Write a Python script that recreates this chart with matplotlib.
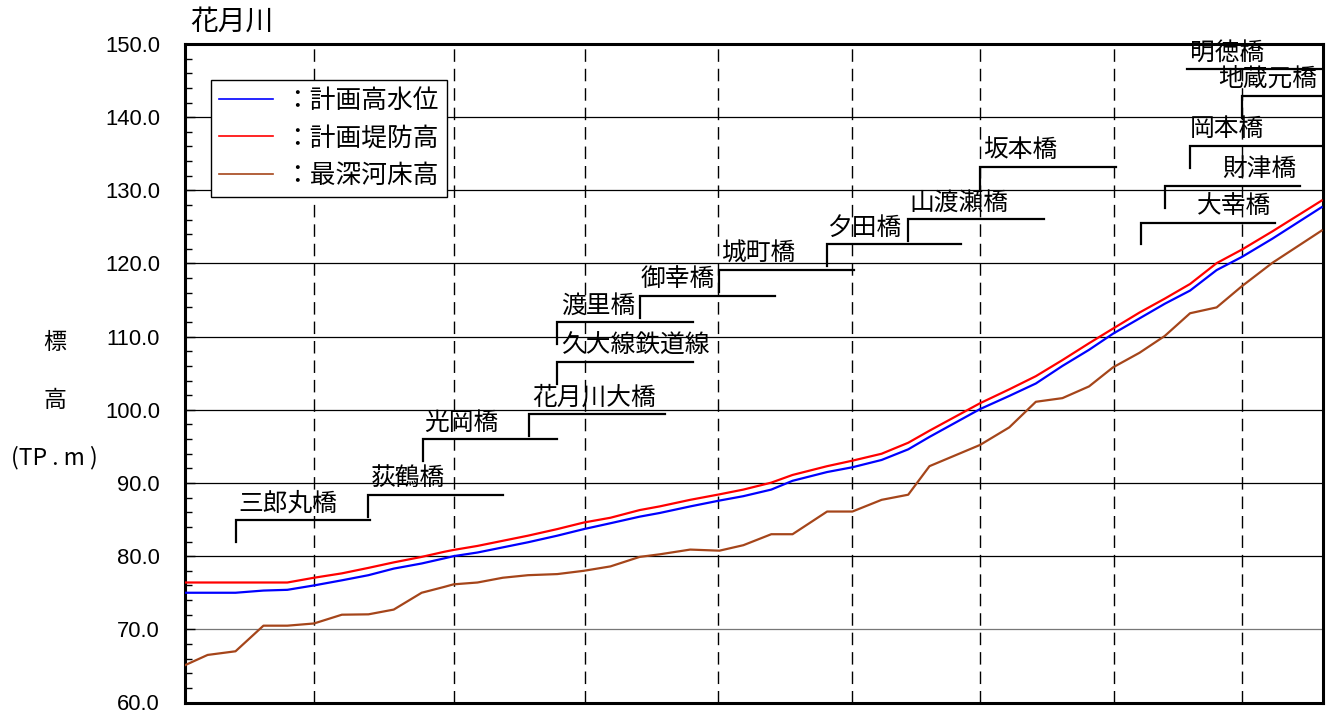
import numpy as np
import matplotlib.pyplot as plt
from matplotlib.ticker import FormatStrFormatter

plt.rcParams['font.family'] = ['Noto Sans CJK JP', 'DejaVu Sans']

# 距離 (km) と各標高 (TP.m)
km = [0.00, 0.17, 0.38, 0.59, 0.77, 0.97, 1.18, 1.38, 1.57, 1.78, 1.95,
      2.02, 2.20, 2.39, 2.58, 2.80, 3.00, 3.20, 3.42, 3.57, 3.80, 4.02,
      4.20, 4.41, 4.57, 4.83, 5.02, 5.24, 5.44, 5.60, 5.98, 6.20, 6.40,
      6.60, 6.80, 6.98, 7.18, 7.37, 7.56, 7.76, 7.95, 8.18, 8.55]
hwl = [75.0, 75.0, 75.0, 75.3, 75.4, 76.0, 76.7, 77.4, 78.3, 79.0, 79.7,
       80.0, 80.5, 81.2, 81.9, 82.8, 83.7, 84.5, 85.4, 85.9, 86.8, 87.6,
       88.2, 89.1, 90.3, 91.5, 92.15, 93.15, 94.6, 96.3, 100.1, 101.9, 103.6,
       106.0, 108.2, 110.4, 112.5, 114.5, 116.3, 119.1, 120.9, 123.4, 127.7]
levee = [76.4, 76.4, 76.4, 76.4, 76.4, 77.05, 77.65, 78.4, 79.15, 79.9, 80.6,
         80.85, 81.4, 82.1, 82.8, 83.7, 84.6, 85.25, 86.3, 86.8, 87.7, 88.45,
         89.1, 90.05, 91.1, 92.3, 93.05, 94.0, 95.5, 97.15, 100.9, 102.8, 104.6,
         106.8, 109.1, 111.1, 113.3, 115.2, 117.2, 120.05, 121.9, 124.4, 128.6]
bed = [65.1, 66.5, 67.0, 70.5, 70.5, 70.8, 72.0, 72.05, 72.7, 75.0, 75.8,
       76.15, 76.4, 77.05, 77.4, 77.55, 78.0, 78.6, 79.9, 80.25, 80.9, 80.75,
       81.5, 83.0, 83.0, 86.1, 86.1, 87.7, 88.4, 92.3, 95.2, 97.6, 101.1,
       101.6, 103.2, 105.8, 107.8, 110.1, 113.2, 114.0, 116.9, 120.1, 124.5]

# 距離標の位置
kp = [0.97, 2.02, 3.01, 4.01, 5.02, 5.98, 6.99, 7.95]

# 橋梁
bridges = ['三郎丸橋', '荻鶴橋', '光岡橋', '花月川大橋', '久大線鉄道線', '渡里橋',
           '御幸橋', '城町橋', '夕田橋', '山渡瀬橋', '坂本橋', '大幸橋',
           '財津橋', '岡本橋', '地蔵元橋', '明徳橋']
bridge_km = [0.38, 1.38, 1.79, 2.59, 2.80, 2.80, 3.42, 4.02, 4.83, 5.44,
             5.98, 7.19, 7.37, 7.56, 7.95, 8.60]

# 引出線の配置
lead_y = [85.0, 88.4, 96.0, 99.45, 106.55, 112.0, 115.6, 119.1, 122.6, 126.1,
          133.2, 125.6, 130.65, 136.1, 142.95, 146.6]
lead_end = [1.39, 2.39, 2.80, 3.61, 3.82, 3.82, 4.44, 5.03, 5.84, 6.46,
            7.00, 8.20, 8.39, 8.56, 8.56, 7.54]
text_x = [0.40, 1.40, 1.80, 2.61, 2.83, 2.83, 3.43, 4.03, 4.83, 5.45,
          6.00, 7.61, 7.80, 7.56, 7.77, 7.56]

fig = plt.figure(figsize=(13.26, 7.15), dpi=100)
ax = fig.add_axes([185 / 1326, 1 - 702.5 / 715, 1138 / 1326, 658.5 / 715])

# 格子線
for v in range(70, 150, 10):
    ax.axhline(v, color='#777777' if v == 70 else 'black', lw=0.9, zorder=1)
for x in kp:
    ax.axvline(x, color='black', lw=1.0, linestyle=(0, (9, 5)), zorder=1)

ax.plot(km, hwl, color='#0000ff', lw=1.6, label='：計画高水位', zorder=3)
ax.plot(km, levee, color='#ff0000', lw=1.6, label='：計画堤防高', zorder=3)
ax.plot(km, bed, color='#a5451a', lw=1.6, label='：最深河床高', zorder=3)

# 橋梁の引出線と名称
for name, bx, ly, le, tx in zip(bridges, bridge_km, lead_y, lead_end, text_x):
    ax.plot([bx, bx, le], [ly - 3.0, ly, ly], color='black', lw=1.6,
            solid_joinstyle='miter', zorder=2)
    ax.text(tx, ly + 2.25, name, fontsize=17.8, ha='left', va='center')

ax.set_xlim(0, 8.56)
ax.set_ylim(60, 150)
ax.set_yticks(range(60, 151, 10))
ax.set_yticks(np.arange(60, 150, 2), minor=True)
ax.yaxis.set_major_formatter(FormatStrFormatter('%.1f'))
ax.tick_params(axis='y', which='both', direction='in', left=True, right=False,
               labelsize=15.8, pad=18)
ax.tick_params(axis='y', which='minor', length=5, width=1)
ax.tick_params(axis='y', which='major', length=7, width=1)
ax.tick_params(axis='x', which='both', bottom=False, labelbottom=False)
plt.setp(ax.get_yticklabels(), family='Liberation Sans')
for s in ax.spines.values():
    s.set_linewidth(2.2)

leg = ax.legend(loc='upper left', bbox_to_anchor=(0.023, 0.945), fancybox=False,
                edgecolor='black', framealpha=1, fontsize=18.5, handlelength=2.1,
                borderpad=0.3, labelspacing=0.45, handletextpad=0.45,
                borderaxespad=0)
for h in leg.get_lines():
    h.set_linewidth(1.2)

fig.text(190 / 1326, 1 - 22 / 715, '花月川', fontsize=20, ha='left', va='center')
fig.text(55 / 1326, 1 - 342 / 715, '標', fontsize=16.5, ha='center', va='center')
fig.text(55 / 1326, 1 - 400 / 715, '高', fontsize=16.5, ha='center', va='center')
fig.text(54 / 1326, 1 - 458 / 715, '(TP . m )', fontsize=16.5, ha='center',
         va='center')

fig.savefig('out.png', dpi=100)
